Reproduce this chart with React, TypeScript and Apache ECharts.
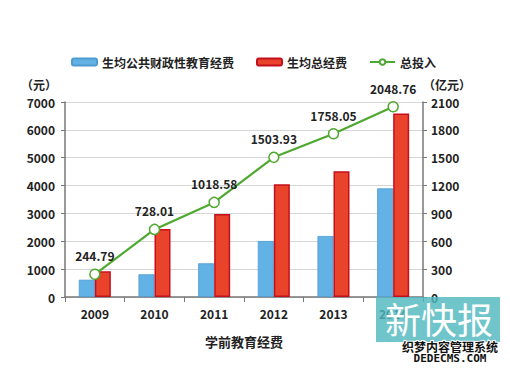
import React, { useEffect, useRef } from "react";
import * as echarts from "echarts";

const categories = ["2009", "2010", "2011", "2012", "2013", "2014"];
const publicFunding = [620, 815, 1210, 2010, 2190, 3900];
const totalFunding = [920, 2440, 2980, 4050, 4510, 6590];
const totalInvestment = [244.79, 728.01, 1018.58, 1503.93, 1758.05, 2048.76];

const FONT = '"Noto Sans CJK SC", "Noto Sans", sans-serif';

export default function App() {
  const ref = useRef<HTMLDivElement>(null);
  useEffect(() => {
    document.body.style.margin = "0";
    if (!ref.current) return;
    const chart = echarts.init(ref.current, undefined, { renderer: "svg" });
    const labelStyle = { color: "#222", fontSize: 12, fontWeight: "bold" as const, fontFamily: FONT };
    chart.setOption({
      animation: false,
      backgroundColor: "#fff",
      textStyle: { fontFamily: FONT },
      legend: {
        top: 51,
        left: 66,
        itemWidth: 25,
        itemHeight: 7,
        itemGap: 22,
        textStyle: { color: "#222", fontSize: 12, fontWeight: "bold", fontFamily: FONT },
        data: ["生均公共财政性教育经费", "生均总经费", "总投入"],
      },
      grid: { left: 65, right: 87, top: 102, bottom: 74, containLabel: false },
      xAxis: {
        type: "category",
        data: categories,
        name: "学前教育经费",
        nameLocation: "middle",
        nameGap: 38,
        nameTextStyle: { ...labelStyle, fontSize: 13 },
        axisLine: { lineStyle: { color: "#777", width: 1.5 } },
        axisTick: { show: true, alignWithLabel: false, lineStyle: { color: "#777" } },
        axisLabel: { ...labelStyle, margin: 10 },
      },
      yAxis: [
        {
          type: "value",
          min: 0,
          max: 7000,
          interval: 1000,
          name: "（元）",
          nameLocation: "end",
          nameGap: 12,
          nameTextStyle: { ...labelStyle, align: "right", padding: [0, 8, 0, 0] },
          axisLine: { show: true, lineStyle: { color: "#777", width: 1.5 } },
          axisTick: { show: true, length: 4, lineStyle: { color: "#777" } },
          axisLabel: { ...labelStyle, margin: 10, formatter: (v: number) => String(v) },
          splitLine: { lineStyle: { color: "#d6d6d6" } },
        },
        {
          type: "value",
          min: 0,
          max: 2100,
          interval: 300,
          name: "（亿元）",
          nameLocation: "end",
          nameGap: 12,
          nameTextStyle: { ...labelStyle, align: "left", padding: [0, 0, 0, 0] },
          axisLine: { show: true, lineStyle: { color: "#777", width: 1.5 } },
          axisTick: { show: true, length: 4, lineStyle: { color: "#777" } },
          axisLabel: { ...labelStyle, margin: 8, formatter: (v: number) => String(v) },
          splitLine: { show: false },
        },
      ],
      series: [
        {
          name: "生均公共财政性教育经费",
          type: "bar",
          yAxisIndex: 0,
          data: publicFunding,
          barWidth: 16,
          barGap: "0%",
          itemStyle: { color: "#62b2e6", borderColor: "#4f9bd0", borderWidth: 0.8 },
        },
        {
          name: "生均总经费",
          type: "bar",
          yAxisIndex: 0,
          data: totalFunding,
          barWidth: 16,
          barGap: "0%",
          itemStyle: { color: "#e9432c", borderColor: "#c4101c", borderWidth: 1.5 },
        },
        {
          name: "总投入",
          type: "line",
          yAxisIndex: 1,
          data: totalInvestment,
          symbol: "circle",
          symbolSize: 10,
          lineStyle: { color: "#4fa82f", width: 2.2 },
          itemStyle: { color: "#ffffff", borderColor: "#4fa82f", borderWidth: 1.5 },
          label: {
            show: true,
            position: "top",
            distance: 7,
            formatter: (p: any) => Number(p.value).toFixed(2),
            ...labelStyle,
          },
          z: 5,
        },
      ],
      graphic: [
        {
          type: "rect",
          shape: { x: 376, y: 297, width: 124, height: 45 },
          style: { fill: "rgba(80,184,192,0.82)" },
          z: 100,
        },
        {
          type: "text",
          x: 439,
          y: 318,
          style: {
            text: "新快报",
            fill: "#ffffff",
            font: `36px ${FONT}`,
            align: "center",
            verticalAlign: "middle",
          },
          z: 101,
        },
        {
          type: "text",
          x: 450,
          y: 346,
          style: {
            text: "织梦内容管理系统",
            fill: "#111",
            stroke: "#fff",
            lineWidth: 2,
            font: `bold 12px ${FONT}`,
            align: "center",
            verticalAlign: "middle",
          },
          z: 101,
        },
        {
          type: "text",
          x: 450,
          y: 358,
          style: {
            text: "DEDECMS.COM",
            fill: "#111",
            font: `bold 11px "DejaVu Sans Mono", monospace`,
            align: "center",
            verticalAlign: "middle",
          },
          z: 101,
        },
      ],
    });
    return () => chart.dispose();
  }, []);
  return <div ref={ref} style={{ width: 510, height: 371 }} />;
}
